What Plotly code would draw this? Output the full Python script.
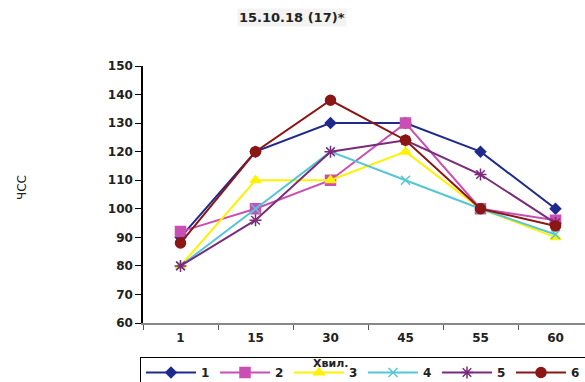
import plotly.graph_objects as go

categories = ["1", "15", "30", "45", "55", "60"]
s1 = [90, 120, 130, 130, 120, 100]
s2 = [92, 100, 110, 130, 100, 96]
s3 = [80, 110, 110, 120, 100, 90]
s4 = [80, 100, 120, 110, 100, 91]
s5 = [80, 96, 120, 124, 112, 95]
s6 = [88, 120, 138, 124, 100, 94]
names = ["1", "2", "3", "4", "5", "6"]
y_ticks = [60, 70, 80, 90, 100, 110, 120, 130, 140, 150]

series = [s1, s2, s3, s4, s5, s6]
colors = ["#1E2A8C", "#C94FB5", "#FFF200", "#55C6D6", "#7A2C7A", "#8B1616"]
symbols = ["diamond", "square", "triangle-up", "x-thin-open", "asterisk-open", "circle"]
sizes = [8, 10, 9, 9, 10, 10]

fig = go.Figure()
for vals, name, c, sym, sz in zip(series, names, colors, symbols, sizes):
    fig.add_trace(go.Scatter(
        x=categories, y=vals, name=f"<b>{name}</b>", mode="lines+markers",
        line=dict(color=c, width=2),
        marker=dict(symbol=sym, size=sz, color=c, line=dict(color=c, width=1.5)),
    ))

W, H = 585, 382
L, R, T, B = 143, 0, 66, 59
pw = W - L - R
ph = H - T - B

fig.update_layout(
    width=W, height=H,
    margin=dict(l=L, r=R, t=T, b=B, autoexpand=False),
    plot_bgcolor="white", paper_bgcolor="white",
    font=dict(family="DejaVu Sans", size=12, color="#222"),
    showlegend=True,
    legend=dict(
        orientation="h", x=(140 - L) / pw, xanchor="left",
        y=-(357 - T - ph) / ph, yanchor="top",
        bordercolor="black", borderwidth=1,
        font=dict(family="DejaVu Sans", size=12, color="#222"),
        entrywidth=9, entrywidthmode="pixels",
        bgcolor="white", tracegroupgap=0, itemwidth=50,
    ),
    xaxis=dict(
        type="category", range=[-0.5, 5.5 - (L + 450 - W) / 75],
        showgrid=False, showline=True, linecolor="#888", linewidth=1.5,
        ticks="outside", tickson="boundaries", ticklen=5, tickcolor="#555",
        ticktext=[f"<b>{c}</b>" for c in categories], tickvals=categories,
        tickfont=dict(family="DejaVu Sans", size=12, color="#222"),
        ticklabelstandoff=3,
        zeroline=False,
    ),
    yaxis=dict(
        range=[60, 150], tickvals=y_ticks,
        ticktext=[f"<b>{v}</b>" for v in y_ticks],
        showgrid=False, showline=True, linecolor="black", linewidth=1.5,
        ticks="outside", ticklen=6, tickcolor="black",
        tickfont=dict(family="DejaVu Sans", size=12, color="#222"),
        zeroline=False,
    ),
)

fig.add_annotation(
    text="<b>15.10.18 (17)*</b>", xref="paper", yref="paper",
    x=(292 - L) / pw, y=(ph + T - 17) / ph, xanchor="center", yanchor="middle",
    showarrow=False, font=dict(family="DejaVu Sans", size=13, color="#222"),
    bgcolor="#f3f3f3",
)
fig.add_annotation(
    text="ЧСС", xref="paper", yref="paper",
    x=(22 - L) / pw, y=(ph + T - 187) / ph, xanchor="center", yanchor="middle",
    showarrow=False, textangle=-90,
    font=dict(family="DejaVu Sans", size=12, color="#222"),
)
fig.add_annotation(
    text="<b>Хвил.</b>", xref="paper", yref="paper",
    x=(330 - L) / pw, y=-(364 - T - ph) / ph, xanchor="center", yanchor="middle",
    showarrow=False, font=dict(family="DejaVu Sans", size=11, color="#222"),
)

fig.write_html("out.html")
